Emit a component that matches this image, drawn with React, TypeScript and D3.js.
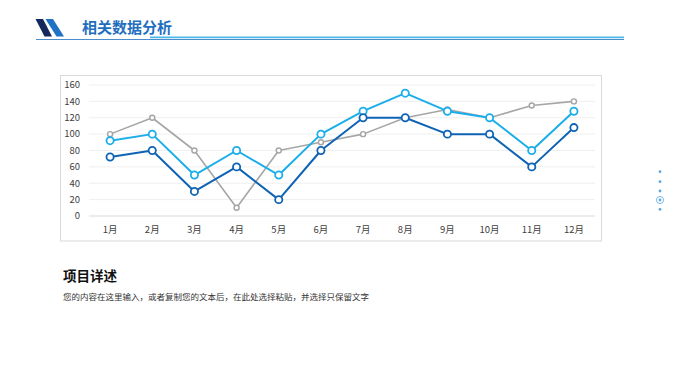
import React from "react";
import * as d3 from "d3";

const months = ["1月", "2月", "3月", "4月", "5月", "6月", "7月", "8月", "9月", "10月", "11月", "12月"];
const greySeries = [100, 120, 80, 10, 80, 90, 100, 120, 130, 120, 135, 140];
const lightSeries = [92, 100, 50, 80, 50, 100, 128, 150, 128, 120, 80, 128];
const darkSeries = [72, 80, 30, 60, 20, 80, 120, 120, 100, 100, 60, 108];
const yTicks = [0, 20, 40, 60, 80, 100, 120, 140, 160];

const FONT = "'Noto Sans CJK SC', 'Noto Sans', sans-serif";

export default function App() {
  const x = d3.scaleBand<string>().domain(months).range([89, 595]);
  const y = d3.scaleLinear().domain([0, 160]).range([216, 85]);
  const cx = (m: string) => (x(m) as number) + x.bandwidth() / 2;
  const line = d3
    .line<number>()
    .x((_, i) => cx(months[i]))
    .y((d) => y(d));

  const series = [
    { data: greySeries, color: "#a6a6a6", r: 2.5, w: 1.6 },
    { data: lightSeries, color: "#1aaeea", r: 3.6, w: 2 },
    { data: darkSeries, color: "#0f63b4", r: 3.6, w: 2 },
  ];

  const dots = [171.7, 181.7, 191, 209.3];

  return (
    <svg width={680} height={383} style={{ position: "absolute", left: 0, top: 0, background: "#fff" }} fontFamily={FONT}>
      {/* header */}
      <polygon points="35.5,19 43,19 52,36.5 44.5,36.5" fill="#14285e" />
      <polygon points="45.5,19 53,19 64,36.5 56.5,36.5" fill="#1f72c4" />
      <text x={82} y={32.5} fontSize={15} fontWeight={700} fill="#1f6fc0">相关数据分析</text>
      <line x1={150} x2={624} y1={37.3} y2={37.3} stroke="#4cb8ea" strokeWidth={1.8} />
      <line x1={36} x2={624} y1={39.5} y2={39.5} stroke="#4a8ccc" strokeWidth={1.2} />

      {/* chart box */}
      <rect x={60.5} y={75.5} width={541} height={165.5} fill="#fff" stroke="#d9d9d9" strokeWidth={1} />
      {yTicks.map((t) => (
        <g key={t}>
          <line x1={89} x2={595} y1={y(t)} y2={y(t)} stroke={t === 0 ? "#d9d9d9" : "#efefef"} strokeWidth={1} />
          <text x={80} y={y(t)} dy="0.35em" textAnchor="end" fontSize={9.5} fill="#404040">{t}</text>
        </g>
      ))}
      {months.map((m) => (
        <text key={m} x={cx(m)} y={230} dy="0.35em" textAnchor="middle" fontSize={9.5} fill="#404040">{m}</text>
      ))}
      {series.map((s, si) => (
        <g key={si}>
          <path d={line(s.data) as string} fill="none" stroke={s.color} strokeWidth={s.w} strokeLinejoin="round" />
          {s.data.map((v, i) => (
            <circle key={i} cx={cx(months[i])} cy={y(v)} r={s.r} fill="#fff" stroke={s.color} strokeWidth={s.w * 0.9} />
          ))}
        </g>
      ))}

      {/* description */}
      <text x={63} y={281} fontSize={13.5} fontWeight={700} fill="#111">项目详述</text>
      <text x={63} y={300} fontSize={8.5} fill="#333">您的内容在这里输入，或者复制您的文本后，在此处选择粘贴，并选择只保留文字</text>

      {/* side nav dots */}
      {dots.map((d, i) => (
        <circle key={i} cx={660} cy={d} r={1.4} fill="#5aa9e6" />
      ))}
      <circle cx={660} cy={200} r={3.6} fill="none" stroke="#5aa9e6" strokeWidth={0.8} />
      <circle cx={660} cy={200} r={1.4} fill="#5aa9e6" />
    </svg>
  );
}
